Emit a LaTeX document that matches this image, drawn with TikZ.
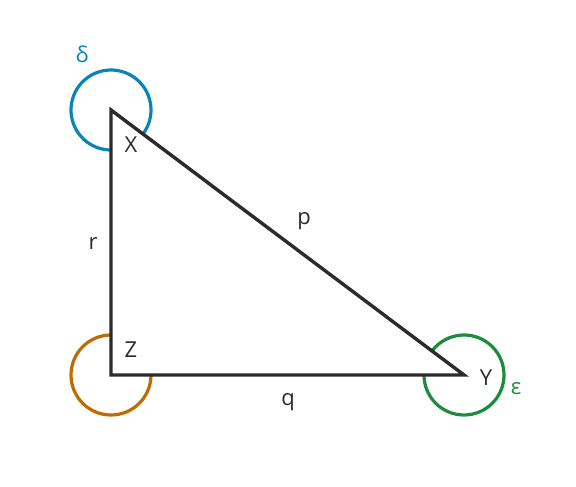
\documentclass[tikz,border=0pt]{standalone}
\usepackage{fontspec}
\setmainfont{Open Sans}
\definecolor{edgegray}{HTML}{2B2B2B}
\definecolor{deltablue}{HTML}{0A84B8}
\definecolor{zorange}{HTML}{C06A00}
\definecolor{epsgreen}{HTML}{1C8C3C}
\begin{document}
\begin{tikzpicture}[x=1pt,y=1pt,line width=3pt,
    side/.style={draw=edgegray,line width=3.4pt,line join=miter},
    vertex label/.style={text=edgegray,font=\fontsize{22}{26}\selectfont,inner sep=0pt},
    angle arc/.style={line width=3.2pt}]
    \useasboundingbox (0,0) rectangle (576,487);
    \coordinate (X) at (111,377);
    \coordinate (Z) at (111,112);
    \coordinate (Y) at (464,112);

    % reflex angles outside the triangle
    \draw[angle arc, deltablue] (X) ++(-36.87:40) arc[start angle=-36.87, end angle=270, radius=40];
    \draw[angle arc, zorange] (Z) ++(90:40) arc[start angle=90, end angle=360, radius=40];
    \draw[angle arc, epsgreen] (Y) ++(180:40) arc[start angle=180, end angle=503.13, radius=40];

    \draw[side] (X) -- (Z) -- (Y) -- cycle;

    \node[vertex label] (lx) at (131,342) {X};
    \node[vertex label] (lz) at (131,137) {Z};
    \node[vertex label] (ly) at (486,109) {Y};
    \node[vertex label] (lr) at (93,243) {r};
    \node[vertex label] (lp) at (304,266) {p};
    \node[vertex label] (lq) at (288,85) {q};
    \node[vertex label, text=deltablue] (ld) at (82,433) {δ};
    \node[vertex label, text=epsgreen] (le) at (516,98) {ε};
\end{tikzpicture}
\end{document}
